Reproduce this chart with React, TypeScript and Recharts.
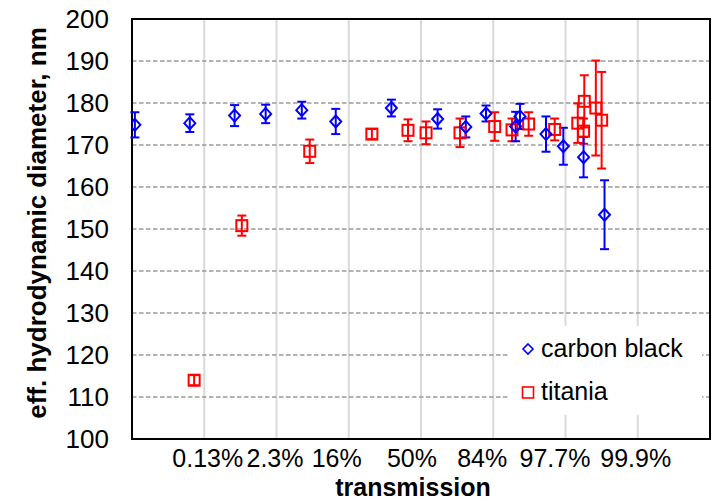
import React from 'react';
import {
  ScatterChart,
  Scatter,
  XAxis,
  YAxis,
  CartesianGrid,
  ErrorBar,
  Legend,
  ReferenceArea,
} from 'recharts';

// x positions are on a probit (standard normal) scale of transmission
const probitTicks = [-3, -2, -1, 0, 1, 2, 3];
const tickLabels = ['0.13%', '2.3%', '16%', '50%', '84%', '97.7%', '99.9%'];
const yTicks = [100, 110, 120, 130, 140, 150, 160, 170, 180, 190, 200];

const carbonX = [-3.96, -3.2, -2.58, -2.15, -1.65, -1.18, -0.41, 0.23, 0.62, 0.9, 1.31, 1.37, 1.73, 1.97, 2.25, 2.54];
const carbonY = [174.8, 175.2, 177.0, 177.4, 178.3, 175.6, 178.8, 176.2, 174.3, 177.5, 174.4, 176.8, 172.6, 169.7, 167.1, 153.4];
const carbonErr = [3.0, 2.1, 2.5, 2.2, 2.0, 3.0, 2.0, 2.3, 2.5, 1.9, 3.5, 3.0, 4.2, 4.4, 4.8, 8.2];

const titaniaX = [-3.14, -2.48, -1.54, -0.68, -0.18, 0.07, 0.54, 1.02, 1.26, 1.49, 1.85, 2.17, 2.25, 2.26, 2.42, 2.5];
const titaniaY = [114.0, 150.8, 168.5, 172.6, 173.5, 172.9, 172.9, 174.4, 173.6, 175.0, 173.7, 175.2, 173.3, 180.4, 178.8, 175.9];
const titaniaErr = [1.2, 2.4, 2.8, 1.2, 2.6, 2.7, 3.4, 3.4, 2.7, 2.8, 2.6, 4.7, 3.0, 6.2, 11.3, 11.5];

const carbonData = carbonX.map((x, i) => ({ x, y: carbonY[i], err: carbonErr[i] }));
const titaniaData = titaniaX.map((x, i) => ({ x, y: titaniaY[i], err: titaniaErr[i] }));

// style: horizontal nudge (px) of each tick label, as laid out in the reference
const tickLabelNudge = [3.5, -1.5, -12, -9, -11, -10.5, -2];

const BLUE = '#0000ff';
const RED = '#ff0000';
const FONT = '"Liberation Sans", Arial, sans-serif';

const Diamond = (props: any) => {
  const { cx, cy } = props;
  if (cx == null || cy == null) return null;
  const r = 5.5;
  return (
    <path
      d={`M${cx},${cy - r - 0.5}L${cx + r},${cy}L${cx},${cy + r + 0.5}L${cx - r},${cy}Z`}
      fill="none"
      stroke={BLUE}
      strokeWidth={2}
    />
  );
};

const Square = (props: any) => {
  const { cx, cy } = props;
  if (cx == null || cy == null) return null;
  const r = 5.5;
  return <rect x={cx - r} y={cy - r} width={2 * r} height={2 * r} fill="none" stroke={RED} strokeWidth={2} />;
};

const XTick = (props: any) => {
  const { x, y, payload } = props;
  const i = probitTicks.indexOf(payload.value);
  if (i < 0) return null;
  return (
    <text x={x + tickLabelNudge[i]} y={y} dy="0.71em" textAnchor="middle" fontSize={25} fontFamily={FONT} fill="#000">
      {tickLabels[i]}
    </text>
  );
};

const renderLegend = () => (
  <svg width={192} height={89} style={{ display: 'block' }}>
    <rect x={0} y={0} width={192} height={89} fill="#ffffff" />
    <path d="M18,18L23,23L18,28L13,23Z" fill="none" stroke={BLUE} strokeWidth={1.6} />
    <text x={31} y={31} fontSize={25} fontFamily={FONT} fill="#000">carbon black</text>
    <rect x={12.5} y={61} width={11} height={11} fill="none" stroke={RED} strokeWidth={1.6} />
    <text x={31} y={74} fontSize={25} fontFamily={FONT} fill="#000">titania</text>
  </svg>
);

const YTitle = (props: any) => {
  const vb = props.viewBox || {};
  const cx = vb.x + 37;
  const cy = vb.y + vb.height / 2 - 6;
  return (
    <text
      x={cx}
      y={cy}
      transform={`rotate(-90, ${cx}, ${cy})`}
      textAnchor="middle"
      dominantBaseline="central"
      fontSize={26}
      fontWeight="bold"
      fontFamily={FONT}
      fill="#000"
    >
      eff. hydrodynamic diameter, nm
    </text>
  );
};

const XTitle = (props: any) => {
  const vb = props.viewBox || {};
  return (
    <text
      x={vb.x + vb.width / 2 - 8}
      y={vb.y + 57}
      textAnchor="middle"
      fontSize={25}
      fontWeight="bold"
      fontFamily={FONT}
      fill="#000"
    >
      transmission
    </text>
  );
};

export default function App() {
  return (
    <div style={{ position: 'absolute', left: 0, top: 0, width: 715, height: 501, background: '#fff' }}>
      <ScatterChart width={715} height={501} margin={{ top: 19, right: 5, bottom: 0, left: 0 }} style={{ fontFamily: FONT }}>
        <CartesianGrid horizontal={false} stroke="#d9d9d9" strokeWidth={2} />
        <CartesianGrid vertical={false} stroke="#9a9a9a" strokeWidth={1.5} strokeDasharray="4.5 2.5" />
        <XAxis
          dataKey="x"
          type="number"
          domain={[-4, 4]}
          ticks={probitTicks}
          interval={0}
          height={62}
          axisLine={false}
          tickLine={false}
          tickSize={0}
          tickMargin={10}
          tick={<XTick />}
          allowDataOverflow
          label={<XTitle />}
        />
        <YAxis
          dataKey="y"
          type="number"
          domain={[100, 200]}
          ticks={yTicks}
          interval={0}
          width={132}
          axisLine={false}
          tickLine={false}
          tickSize={0}
          tickMargin={23}
          tick={{ fill: '#000', fontSize: 26, fontFamily: FONT }}
          allowDataOverflow
          label={<YTitle />}
        />
        <ReferenceArea x1={-4} x2={4} y1={100} y2={200} fill="none" fillOpacity={0} stroke="#000" strokeWidth={2} ifOverflow="visible" />
        <Legend layout="vertical" align="center" verticalAlign="middle" content={renderLegend} wrapperStyle={{ position: 'absolute', left: 510, top: 326, width: 192, height: 89 }} />
        <Scatter name="titania" data={titaniaData} shape={<Square />} isAnimationActive={false}>
          <ErrorBar dataKey="err" direction="y" width={4.5} stroke={RED} strokeWidth={2} isAnimationActive={false} />
        </Scatter>
        <Scatter name="carbon black" data={carbonData} shape={<Diamond />} isAnimationActive={false}>
          <ErrorBar dataKey="err" direction="y" width={4.5} stroke={BLUE} strokeWidth={2} isAnimationActive={false} />
        </Scatter>
      </ScatterChart>
    </div>
  );
}
